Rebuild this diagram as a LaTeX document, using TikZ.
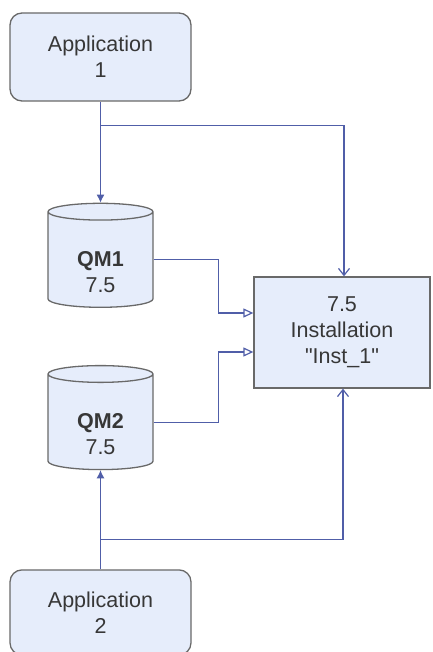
\documentclass[tikz,border=0pt]{standalone}
\usepackage{fontspec}
\setmainfont{Liberation Sans}
\usetikzlibrary{arrows.meta,shapes.geometric,positioning}

\definecolor{boxfill}{RGB}{230,237,251}
\definecolor{boxline}{RGB}{105,105,105}
\definecolor{boxtext}{RGB}{55,55,55}
\definecolor{flow}{RGB}{80,94,168}

\tikzset{
  appbox/.style={rectangle, rounded corners=12pt, draw=boxline, fill=boxfill, line width=1.3pt,
                 minimum width=181pt, minimum height=88pt, align=center, text=boxtext,
                 font=\fontsize{21.5}{26}\selectfont},
  qmdisk/.style={cylinder, shape border rotate=90, aspect=0.36, draw=boxline, fill=boxfill,
                 line width=1.3pt, minimum width=105pt, minimum height=104pt, inner sep=0pt,
                 align=center, text=boxtext, font=\fontsize{21.5}{26}\selectfont},
  instbox/.style={rectangle, draw=boxline, fill=boxfill, line width=1.3pt,
                  minimum width=176pt, minimum height=111pt, align=center, text=boxtext,
                  font=\fontsize{21.5}{26}\selectfont},
  link/.style={draw=flow, line width=1.2pt},
}

\begin{document}
\begin{tikzpicture}[x=1pt,y=-1pt]
        \useasboundingbox (0,0) rectangle (432,652);
        % boxes
        \node[appbox] (app1) at (100.5,57) {Application\\1};
        \node[qmdisk, below=101pt of app1] (qm1) {\rule{0pt}{39pt}\textbf{QM1}\\7.5};
        \node[qmdisk, below=57pt of qm1] (qm2) {\rule{0pt}{39pt}\textbf{QM2}\\7.5};
        \node[appbox, minimum height=85pt, below=99pt of qm2] (app2) {Application\\2};
        \node[instbox] (inst) at (342,332.5) {7.5\\Installation\\\textquotedbl Inst\_1\textquotedbl};
        \coordinate[below=24pt of app1] (fork1);
        \coordinate[above=30pt of app2] (fork2);
        % connectors
        \draw[link,-{Latex[length=8pt,width=8pt]}] (app1.south) -- (qm1.north);
        \draw[link,-{Straight Barb[length=7pt,width=11pt]}] (fork1) -| ([xshift=2pt]inst.north);
        \draw[link,-{Latex[length=8pt,width=8pt]}] (app2.north) -- (qm2.south);
        \draw[link,-{Straight Barb[length=7pt,width=11pt]}] (fork2) -| ([xshift=1pt]inst.south);
        \draw[link,-{Triangle[open,length=10pt,width=9pt]}] (qm1.east) -- ++(65,0) |- ([yshift=19.5pt]inst.west);
        \draw[link,-{Triangle[open,length=10pt,width=9pt]}] (qm2.east) -- ++(65,0) |- ([yshift=-19.5pt]inst.west);
\end{tikzpicture}
\end{document}
